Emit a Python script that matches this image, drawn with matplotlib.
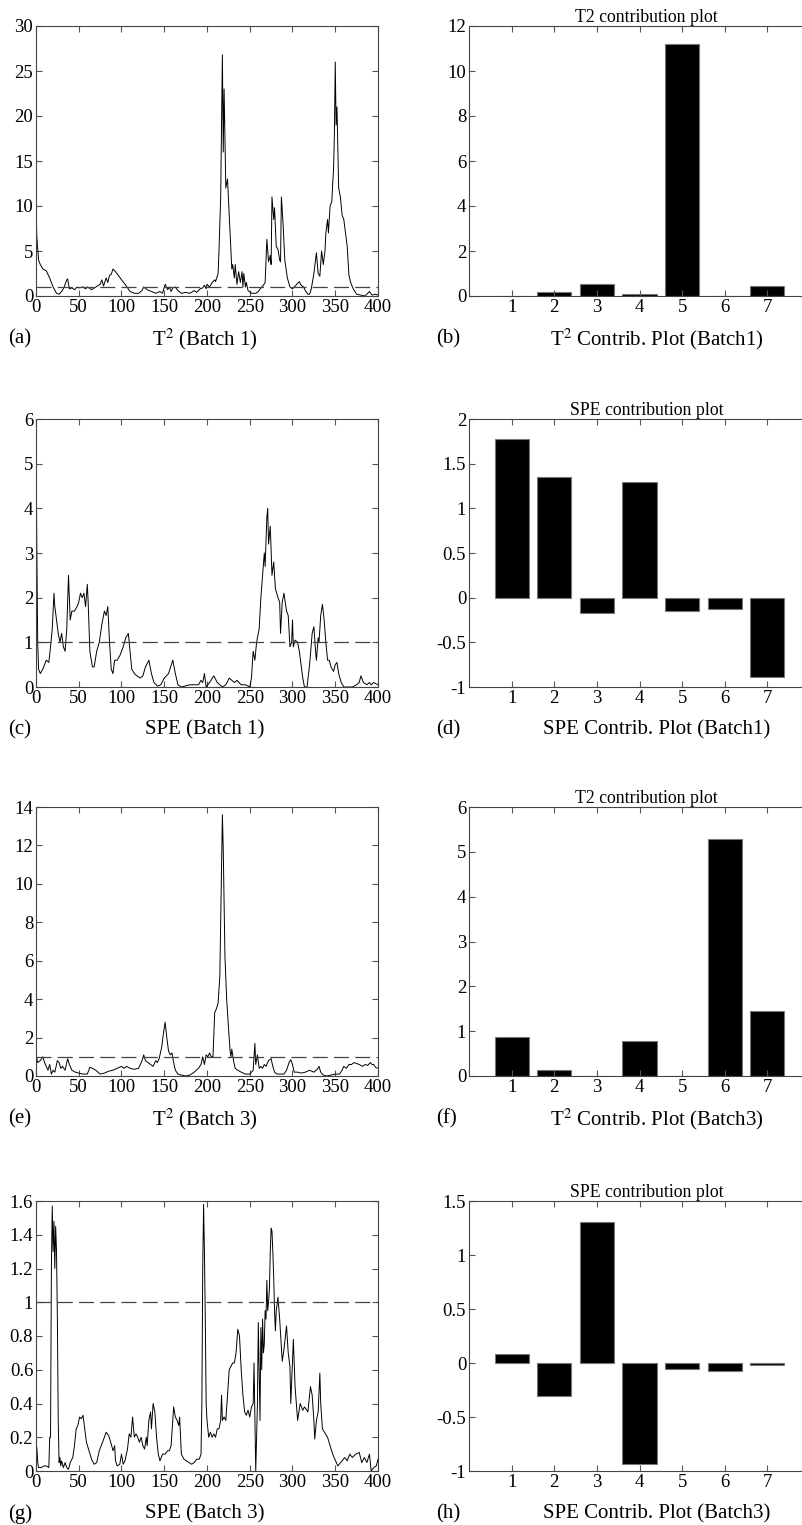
import numpy as np
import matplotlib.pyplot as plt

plt.rcParams['font.family'] = ['Liberation Serif', 'DejaVu Serif']
plt.rcParams['mathtext.fontset'] = 'stix'

# ---- monitoring statistics, hand read (sample, value) knots ----
t2_b1 = [(0, 9.5), (1, 6.5), (3, 4.0), (5, 3.5), (8, 3.0), (12, 2.8), (16, 2.0), (20, 1.0), (24, 0.3),
         (27, 0.2), (30, 0.5), (33, 1.0), (36, 1.8), (37, 1.9), (39, 0.8), (42, 0.9), (45, 0.7), (48, 1.0),
         (50, 0.9), (55, 1.0), (58, 0.8), (60, 1.0), (62, 0.9), (65, 0.7), (70, 1.0), (75, 1.3), (77, 1.8),
         (79, 1.1), (82, 2.0), (84, 1.5), (86, 2.3), (88, 2.4), (90, 3.0), (93, 2.7), (97, 2.2), (100, 1.8),
         (105, 1.2), (110, 0.5), (115, 0.3), (120, 0.3), (124, 0.6), (126, 1.0), (130, 0.7), (135, 0.5),
         (140, 0.3), (145, 0.5), (148, 0.3), (151, 1.3), (154, 0.7), (156, 1.0), (158, 0.5), (160, 0.9),
         (163, 1.0), (166, 0.6), (170, 0.3), (175, 0.4), (180, 0.3), (185, 0.6), (188, 0.4), (192, 0.8),
         (195, 0.9), (197, 1.2), (199, 0.8), (200, 1.3), (203, 1.0), (206, 1.5), (209, 1.8), (210, 1.6),
         (213, 2.5), (214, 5.0), (216, 11.0), (218, 26.8), (219, 16.0), (220, 23.0), (222, 12.0),
         (224, 13.0), (225, 11.0), (227, 7.0), (229, 3.0), (230, 3.5), (232, 2.0), (233, 3.5), (235, 1.3),
         (237, 2.7), (239, 1.5), (241, 2.7), (242, 1.0), (243, 2.5), (245, 1.0), (246, 1.5), (248, 0.6),
         (252, 0.3), (257, 0.3), (260, 0.5), (263, 0.9), (266, 1.2), (268, 1.5), (270, 6.3), (272, 3.8),
         (274, 4.5), (275, 3.5), (276, 11.0), (278, 8.5), (279, 9.8), (281, 5.5), (283, 5.2), (285, 4.0),
         (286, 3.8), (287, 11.0), (289, 8.0), (291, 4.0), (294, 2.0), (297, 1.0), (300, 0.8), (302, 1.0),
         (305, 1.3), (308, 1.6), (310, 1.2), (313, 1.0), (315, 0.6), (318, 0.2), (320, 0.2), (322, 0.8),
         (325, 2.5), (328, 4.8), (330, 2.5), (332, 2.2), (334, 5.0), (336, 3.5), (338, 5.0), (339, 7.0),
         (341, 8.5), (342, 7.0), (344, 10.0), (346, 10.5), (347, 12.5), (348, 14.0), (349, 18.0),
         (350, 26.0), (351, 19.0), (352, 21.0), (354, 12.0), (356, 11.0), (358, 9.0), (360, 8.5),
         (362, 7.0), (364, 5.5), (366, 2.3), (368, 1.5), (371, 0.8), (375, 0.2), (380, 0.1), (385, 0.0),
         (390, 0.5), (393, 0.1), (397, 0.2), (400, 0.1)]

spe_b1 = [(0, 5.7), (1, 3.0), (2, 1.0), (3, 0.4), (5, 0.3), (8, 0.4), (12, 0.6), (15, 0.55), (17, 0.9),
          (19, 1.3), (21, 2.1), (22, 1.8), (24, 1.5), (26, 1.2), (28, 1.0), (30, 1.2), (32, 0.9), (34, 0.8),
          (36, 1.3), (38, 2.5), (40, 1.5), (42, 1.7), (45, 1.7), (48, 1.8), (50, 1.9), (52, 2.1), (54, 2.0),
          (56, 2.1), (58, 1.8), (60, 2.3), (61, 1.9), (63, 0.8), (66, 0.45), (68, 0.45), (71, 0.8),
          (74, 1.0), (77, 1.4), (80, 1.7), (82, 1.6), (84, 1.8), (86, 1.0), (88, 0.4), (90, 0.3), (92, 0.6),
          (95, 0.6), (98, 0.7), (102, 0.9), (105, 1.1), (108, 1.2), (110, 0.8), (112, 0.4), (115, 0.3),
          (118, 0.25), (122, 0.2), (125, 0.25), (128, 0.45), (132, 0.6), (135, 0.3), (138, 0.1),
          (142, 0.02), (146, 0.05), (150, 0.2), (155, 0.3), (160, 0.6), (163, 0.3), (166, 0.05),
          (170, 0.0), (180, 0.05), (190, 0.05), (193, 0.15), (195, 0.1), (197, 0.3), (199, 0.0),
          (203, 0.1), (208, 0.25), (212, 0.1), (218, 0.0), (222, 0.05), (226, 0.2), (229, 0.15),
          (232, 0.1), (235, 0.15), (240, 0.05), (245, 0.05), (250, 0.0), (252, 0.2), (254, 0.8),
          (256, 0.6), (258, 1.0), (261, 1.3), (263, 2.0), (265, 2.5), (267, 3.0), (268, 2.7), (270, 3.8),
          (271, 4.0), (272, 3.2), (274, 3.6), (276, 2.5), (278, 2.8), (280, 2.2), (283, 2.0), (285, 1.9),
          (286, 1.2), (288, 1.9), (290, 2.1), (293, 1.7), (295, 1.6), (297, 0.9), (299, 1.0), (300, 1.5),
          (301, 0.9), (303, 1.05), (306, 1.0), (308, 0.8), (310, 0.5), (312, 0.2), (314, 0.0), (317, 0.0),
          (320, 0.5), (323, 1.2), (325, 1.35), (327, 0.8), (328, 0.6), (330, 1.1), (331, 1.0), (333, 1.6),
          (335, 1.85), (337, 1.5), (339, 1.0), (341, 0.6), (343, 0.6), (345, 0.45), (348, 0.35),
          (350, 0.5), (352, 0.55), (354, 0.3), (357, 0.1), (360, 0.0), (370, 0.0), (375, 0.05), (378, 0.1),
          (380, 0.25), (383, 0.1), (387, 0.05), (390, 0.1), (392, 0.05), (395, 0.1), (400, 0.05)]

t2_b3 = [(0, 1.1), (2, 0.7), (5, 0.8), (8, 1.0), (10, 0.7), (12, 0.5), (14, 0.3), (16, 0.6), (18, 0.1),
         (20, 0.3), (22, 0.2), (25, 0.8), (27, 0.7), (29, 0.4), (31, 0.5), (34, 0.3), (37, 0.9), (39, 0.6),
         (42, 0.3), (46, 0.2), (50, 0.15), (55, 0.1), (60, 0.1), (63, 0.45), (66, 0.4), (70, 0.3),
         (75, 0.1), (80, 0.15), (85, 0.25), (90, 0.3), (95, 0.4), (100, 0.5), (103, 0.4), (106, 0.5),
         (110, 0.4), (115, 0.35), (120, 0.4), (124, 0.8), (126, 1.1), (128, 0.8), (131, 0.7), (134, 0.6),
         (137, 0.5), (140, 0.8), (142, 0.7), (144, 0.9), (147, 1.5), (149, 2.2), (151, 2.8), (153, 2.0),
         (155, 1.3), (157, 1.1), (159, 1.2), (161, 0.7), (163, 0.3), (166, 0.1), (170, 0.05), (175, 0.0),
         (180, 0.05), (185, 0.2), (190, 0.4), (193, 0.6), (195, 1.0), (197, 0.6), (199, 1.1), (201, 1.0),
         (203, 1.2), (205, 1.0), (207, 1.0), (209, 3.3), (211, 3.5), (213, 3.8), (215, 5.2), (216, 8.0),
         (218, 13.6), (219, 11.8), (220, 9.0), (221, 6.2), (223, 4.0), (225, 2.6), (227, 1.3), (228, 1.0),
         (229, 1.4), (231, 0.8), (233, 0.4), (236, 0.3), (240, 0.2), (245, 0.1), (250, 0.1), (254, 0.3),
         (256, 1.7), (257, 0.6), (259, 1.1), (261, 0.4), (263, 0.5), (265, 0.4), (267, 0.6), (269, 0.5),
         (272, 0.8), (275, 0.9), (277, 0.5), (279, 0.2), (282, 0.1), (286, 0.1), (290, 0.1), (293, 0.3),
         (296, 0.7), (298, 0.85), (300, 0.6), (302, 0.2), (306, 0.2), (310, 0.15), (315, 0.2), (320, 0.3),
         (325, 0.2), (329, 0.35), (331, 0.5), (333, 0.2), (336, 0.05), (340, 0.0), (345, 0.05), (350, 0.1),
         (355, 0.1), (358, 0.3), (360, 0.5), (363, 0.4), (366, 0.6), (369, 0.6), (372, 0.7), (375, 0.65),
         (378, 0.6), (382, 0.5), (385, 0.6), (388, 0.55), (391, 0.7), (393, 0.6), (395, 0.6), (397, 0.45),
         (400, 0.4)]

spe_b3 = [(0, 0.13), (1, 0.14), (2, 0.05), (3, 0.02), (6, 0.02), (9, 0.03), (12, 0.03), (15, 0.02),
          (16, 0.2), (17, 0.2), (18, 1.2), (19, 1.57), (20, 1.3), (21, 1.48), (22, 1.2), (23, 1.45),
          (24, 1.3), (25, 0.9), (26, 0.3), (27, 0.05), (28, 0.08), (29, 0.03), (30, 0.06), (32, 0.02),
          (34, 0.05), (36, 0.02), (38, 0.01), (40, 0.05), (43, 0.08), (45, 0.15), (47, 0.25), (49, 0.27),
          (51, 0.32), (53, 0.31), (55, 0.33), (57, 0.25), (59, 0.17), (62, 0.12), (65, 0.07), (68, 0.04),
          (71, 0.05), (74, 0.12), (77, 0.16), (80, 0.2), (82, 0.23), (85, 0.21), (88, 0.16), (90, 0.12),
          (92, 0.15), (93, 0.06), (95, 0.03), (98, 0.04), (100, 0.1), (102, 0.04), (104, 0.06), (107, 0.13),
          (109, 0.22), (111, 0.2), (113, 0.32), (115, 0.2), (117, 0.22), (119, 0.2), (121, 0.17),
          (123, 0.2), (125, 0.15), (127, 0.13), (129, 0.2), (130, 0.15), (132, 0.3), (134, 0.35),
          (135, 0.25), (137, 0.4), (139, 0.35), (141, 0.2), (143, 0.1), (145, 0.06), (148, 0.1), (151, 0.1),
          (154, 0.12), (156, 0.12), (158, 0.15), (161, 0.38), (163, 0.32), (165, 0.3), (167, 0.27),
          (168, 0.32), (170, 0.1), (173, 0.07), (176, 0.06), (179, 0.05), (182, 0.04), (185, 0.05),
          (188, 0.07), (191, 0.07), (193, 0.1), (194, 0.4), (195, 1.2), (196, 1.58), (197, 1.3), (198, 0.9),
          (199, 0.4), (200, 0.3), (202, 0.2), (204, 0.23), (206, 0.2), (208, 0.22), (210, 0.2), (212, 0.25),
          (214, 0.25), (216, 0.3), (217, 0.45), (218, 0.3), (220, 0.32), (222, 0.3), (224, 0.45), (226, 0.6),
          (228, 0.62), (230, 0.64), (232, 0.64), (234, 0.7), (236, 0.84), (238, 0.8), (240, 0.6),
          (242, 0.45), (244, 0.35), (246, 0.33), (248, 0.36), (250, 0.32), (252, 0.38), (254, 0.4),
          (255, 0.64), (256, 0.3), (257, 0.0), (258, 0.2), (259, 0.4), (260, 0.88), (261, 0.6), (262, 0.3),
          (263, 0.85), (264, 0.6), (265, 0.9), (266, 0.7), (267, 0.75), (268, 0.95), (269, 0.9), (270, 1.13),
          (271, 0.95), (272, 1.0), (273, 1.08), (274, 1.3), (275, 1.44), (276, 1.42), (277, 1.3),
          (278, 1.15), (279, 0.95), (280, 0.83), (281, 0.95), (283, 1.03), (285, 0.9), (288, 0.65),
          (290, 0.72), (293, 0.86), (295, 0.7), (297, 0.62), (298, 0.4), (301, 0.78), (303, 0.5), (306, 0.3),
          (309, 0.4), (312, 0.36), (314, 0.38), (318, 0.35), (321, 0.5), (323, 0.45), (325, 0.3),
          (326, 0.19), (328, 0.3), (330, 0.35), (332, 0.58), (333, 0.4), (335, 0.25), (341, 0.2),
          (347, 0.1), (353, 0.03), (358, 0.06), (361, 0.08), (364, 0.06), (367, 0.1), (370, 0.08),
          (374, 0.1), (378, 0.11), (381, 0.05), (384, 0.08), (387, 0.05), (390, 0.1), (392, 0.0),
          (395, 0.02), (398, 0.03), (400, 0.07)]

# ---- contribution bars ----
variables = [1, 2, 3, 4, 5, 6, 7]
t2_contrib_b1 = [0.0, 0.16, 0.55, 0.07, 11.18, 0.0, 0.44]
spe_contrib_b1 = [1.775, 1.353, -0.174, 1.29, -0.148, -0.129, -0.89]
t2_contrib_b3 = [0.88, 0.126, 0.0, 0.79, 0.0, 5.29, 1.44]
spe_contrib_b3 = [0.083, -0.303, 1.305, -0.937, -0.053, -0.071, -0.016]

limit = 1.0

W, H = 802, 1525
fig = plt.figure(figsize=(W / 100, H / 100), dpi=100)

rows = [(26, 296), (419, 687), (807, 1076), (1201, 1471)]
left_x = (36, 378)
right_x = (469, 810)


def make_ax(xr, yr):
    return fig.add_axes([xr[0] / W, 1 - yr[1] / H, (xr[1] - xr[0]) / W, (yr[1] - yr[0]) / H])


def style(ax):
    for s in ax.spines.values():
        s.set_color('#444444')
        s.set_linewidth(0.8)
    ax.tick_params(direction='in', top=True, right=True, length=4, width=0.8, color='#555555',
                   labelsize=13.5, pad=2)


series = [(t2_b1, [0, 30], list(range(0, 31, 5))),
          (spe_b1, [0, 6], list(range(0, 7))),
          (t2_b3, [0, 14], list(range(0, 15, 2))),
          (spe_b3, [0, 1.6], [0, 0.2, 0.4, 0.6, 0.8, 1, 1.2, 1.4, 1.6])]

bars = [(t2_contrib_b1, [0, 12], [0, 2, 4, 6, 8, 10, 12], 'T2 contribution plot'),
        (spe_contrib_b1, [-1, 2], [-1, -0.5, 0, 0.5, 1, 1.5, 2], 'SPE contribution plot'),
        (t2_contrib_b3, [0, 6], [0, 1, 2, 3, 4, 5, 6], 'T2 contribution plot'),
        (spe_contrib_b3, [-1, 1.5], [-1, -0.5, 0, 0.5, 1, 1.5], 'SPE contribution plot')]

left_labels = [('(a)', 'T$^2$ (Batch 1)'), ('(c)', 'SPE (Batch 1)'),
               ('(e)', 'T$^2$ (Batch 3)'), ('(g)', 'SPE (Batch 3)')]
right_labels = [('(b)', 'T$^2$ Contrib. Plot (Batch1)'), ('(d)', 'SPE Contrib. Plot (Batch1)'),
                ('(f)', 'T$^2$ Contrib. Plot (Batch3)'), ('(h)', 'SPE Contrib. Plot (Batch3)')]

for i, yr in enumerate(rows):
    # left: monitoring statistic with control limit
    ax = make_ax(left_x, yr)
    pts, ylim, yt = series[i]
    xs, ys = zip(*pts)
    ax.plot(xs, ys, color='black', linewidth=0.7)
    ax.axhline(limit, color='#444444', linewidth=0.9, dashes=(12, 5))
    ax.set_xlim(0, 400)
    ax.set_ylim(*ylim)
    ax.set_xticks(np.arange(0, 401, 50))
    ax.set_yticks(yt)
    ax.set_yticklabels(['%g' % v for v in yt])
    style(ax)

    # right: contribution plot
    bx = make_ax(right_x, yr)
    vals, ylim_b, ytb, title = bars[i]
    bx.bar(variables, vals, width=0.8, color='black', edgecolor='#777777', linewidth=0.8)
    bx.set_xlim(0, 8)
    bx.set_ylim(*ylim_b)
    bx.set_xticks(variables)
    bx.set_yticks(ytb)
    bx.set_yticklabels(['%g' % v for v in ytb])
    bx.set_title(title, fontsize=12.8, pad=3, x=0.52)
    style(bx)

    ly = 1 - (yr[1] + 43) / H
    fig.text(8 / W, ly, left_labels[i][0], fontsize=15, va='center', ha='left')
    fig.text(205 / W, ly, left_labels[i][1], fontsize=15, va='center', ha='center')
    fig.text(436 / W, ly, right_labels[i][0], fontsize=15, va='center', ha='left')
    fig.text(657 / W, ly, right_labels[i][1], fontsize=15, va='center', ha='center')

fig.savefig('out.png', dpi=100)
